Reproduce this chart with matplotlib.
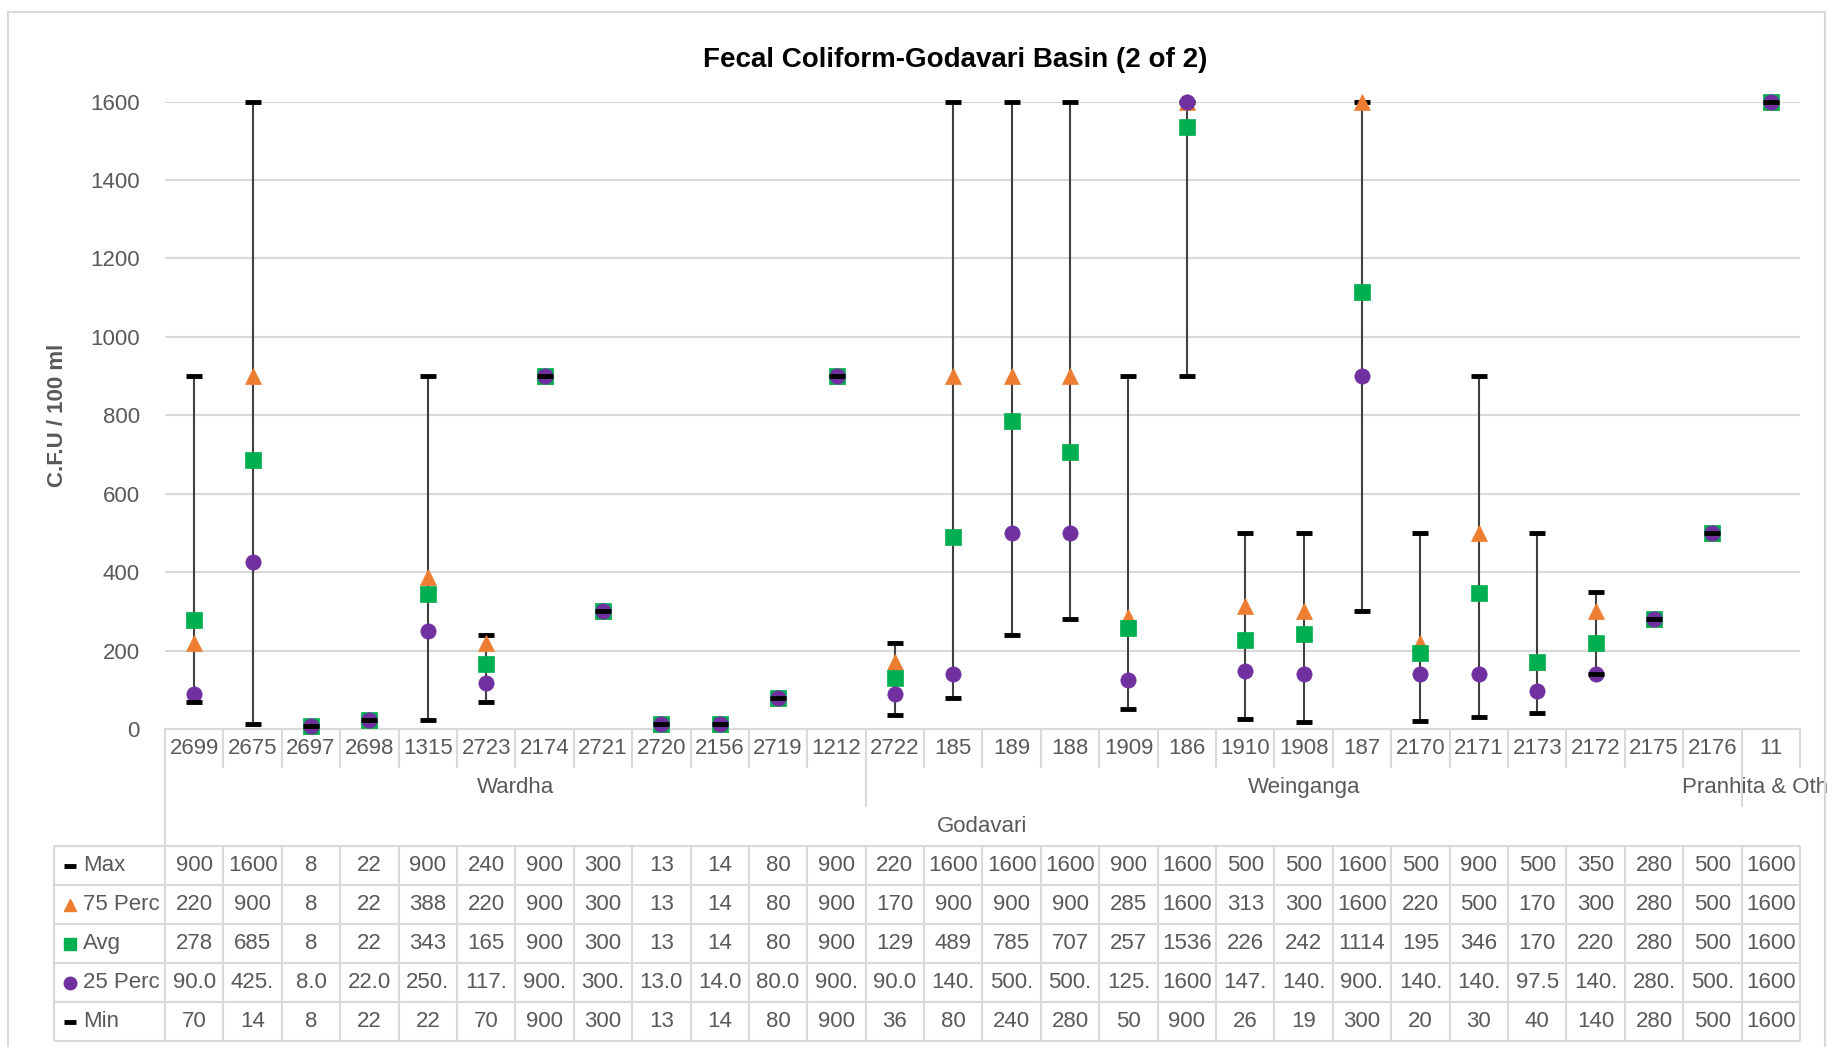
import matplotlib
matplotlib.use('Agg')
import matplotlib.pyplot as plt
from matplotlib.patches import Rectangle
from itertools import groupby

plt.rcParams['font.family'] = ['Liberation Sans Narrow', 'Liberation Sans', 'DejaVu Sans']

# station data (C.F.U / 100 ml)
stations = ['2699', '2675', '2697', '2698', '1315', '2723', '2174', '2721', '2720', '2156',
            '2719', '1212', '2722', '185', '189', '188', '1909', '186', '1910', '1908',
            '187', '2170', '2171', '2173', '2172', '2175', '2176', '11']
sub_basins = ['Wardha'] * 12 + ['Weinganga'] * 15 + ['Pranhita & Others']
basin = 'Godavari'

max_vals = [900, 1600, 8, 22, 900, 240, 900, 300, 13, 14, 80, 900, 220, 1600, 1600, 1600,
            900, 1600, 500, 500, 1600, 500, 900, 500, 350, 280, 500, 1600]
p75_vals = [220, 900, 8, 22, 388, 220, 900, 300, 13, 14, 80, 900, 170, 900, 900, 900,
            285, 1600, 313, 300, 1600, 220, 500, 170, 300, 280, 500, 1600]
avg_vals = [278, 685, 8, 22, 343, 165, 900, 300, 13, 14, 80, 900, 129, 489, 785, 707,
            257, 1536, 226, 242, 1114, 195, 346, 170, 220, 280, 500, 1600]
p25_vals = [90, 425, 8, 22, 250, 117.5, 900, 300, 13, 14, 80, 900, 90, 140, 500, 500,
            125, 1600, 147.5, 140, 900, 140, 140, 97.5, 140, 280, 500, 1600]
min_vals = [70, 14, 8, 22, 22, 70, 900, 300, 13, 14, 80, 900, 36, 80, 240, 280,
            50, 900, 26, 19, 300, 20, 30, 40, 140, 280, 500, 1600]

W, H = 1829, 1047
grid_c = '#d9d9d9'
text_c = '#595959'
fs = 16

fig = plt.figure(figsize=(W / 100, H / 100), dpi=100)

# outer chart border
fig.patches.append(Rectangle((8 / W, -0.02), (1825 - 8) / W, 1 - 12 / H + 0.02,
                             transform=fig.transFigure, fill=False, ec=grid_c, lw=1.5))

ax = fig.add_axes([165 / W, 1 - 729 / H, (1800 - 165) / W, (729 - 101.5) / H])
x = list(range(len(stations)))

ax.vlines(x, min_vals, max_vals, color='#404040', lw=1.5, zorder=2)
series = [
    ('Max', max_vals, '_', 'black'),
    ('75 Perc', p75_vals, '^', '#ED7D31'),
    ('Avg', avg_vals, 's', '#00B050'),
    ('25 Perc', p25_vals, 'o', '#7030A0'),
    ('Min', min_vals, '_', 'black'),
]
for z, (name, vals, mk, col) in enumerate(series):
    if mk == '_':
        ax.plot(x, vals, ls='none', marker=mk, ms=11, mew=3.5, color=col,
                clip_on=False, zorder=3 + z)
    else:
        ax.plot(x, vals, ls='none', marker=mk, ms=11, color=col, mec=col, mew=0.5,
                clip_on=False, zorder=3 + z)

ax.set_xlim(-0.5, len(stations) - 0.5)
ax.set_ylim(0, 1600)
ax.set_yticks(range(0, 1601, 200))
ax.yaxis.grid(True, color=grid_c, lw=1.5)
ax.set_axisbelow(True)
for s in ['top', 'right', 'left']:
    ax.spines[s].set_visible(False)
ax.spines['bottom'].set_color(grid_c)
ax.spines['bottom'].set_linewidth(1.5)
ax.set_xticks([])
ax.tick_params(axis='y', length=0, pad=18, labelsize=fs, labelcolor=text_c)
ax.set_ylabel('C.F.U / 100 ml', fontsize=16, fontweight='bold', color=text_c)
ax.yaxis.set_label_coords((68 - 165) / 1635, 0.5)

fig.text(955 / W, 1 - 60 / H, 'Fecal Coliform-Godavari Basin (2 of 2)',
         ha='center', va='center', fontsize=20, fontweight='bold', color='black')

# category axis + data table below the plot
col_w = 1635 / len(stations)
x0 = -0.5 - (165 - 54) / col_w
xr = len(stations) - 0.5
tab = fig.add_axes([54 / W, 1 - 1041 / H, (1800 - 54) / W, (1041 - 729) / H])
tab.set_xlim(x0, xr)
tab.set_ylim(8, 0)
tab.axis('off')

def vline(xv, y1, y2):
    tab.plot([xv, xv], [y1, y2], color=grid_c, lw=1.5, solid_capstyle='butt', clip_on=False)

def hline(y, xa, xb):
    tab.plot([xa, xb], [y, y], color=grid_c, lw=1.5, solid_capstyle='butt', clip_on=False)

# station row
for i, s in enumerate(stations):
    tab.text(i, 0.5, s, ha='center', va='center', fontsize=fs, color=text_c)
    vline(i + 0.5, 0, 1)
vline(-0.5, 0, 3)

# sub-basin row
start = 0
for name, grp in groupby(sub_basins):
    n = len(list(grp))
    tab.text(start + (n - 1) / 2, 1.5, name, ha='center', va='center', fontsize=fs, color=text_c)
    if start + n < len(stations):
        vline(start + n - 0.5, 1, 2)
    start += n

# basin row
tab.text((len(stations) - 1) / 2, 2.5, basin, ha='center', va='center', fontsize=fs, color=text_c)

# data table
for r in range(6):
    hline(3 + r, x0, xr)
vline(x0, 3, 8)
for i in range(len(stations) + 1):
    vline(i - 0.5, 3, 8)

key_x = x0 + (70 - 54) / col_w
lab_x = x0 + (83 - 54) / col_w
for r, (name, vals, mk, col) in enumerate(series):
    y = 3.5 + r
    if mk == '_':
        tab.plot(key_x, y, marker='_', ms=9, mew=3.5, color=col, clip_on=False)
    else:
        tab.plot(key_x, y, marker=mk, ms=9, color=col, mec=col, clip_on=False)
    tab.text(lab_x, y, name, ha='left', va='center', fontsize=fs, color=text_c)
    for i, v in enumerate(vals):
        if name == '25 Perc':
            txt = f'{v:.1f}'[:4]
        else:
            txt = f'{v:.0f}'
        tab.text(i, y, txt, ha='center', va='center', fontsize=fs, color=text_c)

fig.savefig('out.png', dpi=100)
